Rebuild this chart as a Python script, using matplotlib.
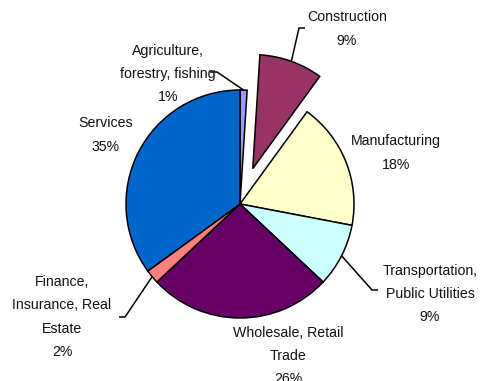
import matplotlib
matplotlib.use("Agg")
import matplotlib.pyplot as plt
import numpy as np

# employment share by sector, clockwise from 12 o'clock
sectors = ["Agriculture,\nforestry, fishing", "Construction", "Manufacturing",
           "Transportation,\nPublic Utilities", "Wholesale, Retail\nTrade",
           "Finance,\nInsurance, Real\nEstate", "Services"]
shares = [1, 9, 18, 9, 26, 2, 35]
colors = ["#9999FF", "#993366", "#FFFFCC", "#CCFFFF", "#660066", "#FF8080", "#0066CC"]
explode_idx = 1

W, H = 490, 381
CX, CY, R = 240, 204, 114
EXPLODE = 0.33  # fraction of the radius

plt.rcParams['font.family'] = ['Liberation Sans', 'DejaVu Sans']

fig = plt.figure(figsize=(W / 100, H / 100), dpi=100)
ax = fig.add_axes([0, 0, 1, 1])

explode = [EXPLODE if i == explode_idx else 0 for i in range(len(shares))]
# pie() takes the explode offset in data units
ax.pie(shares, colors=colors, startangle=90, counterclock=False,
       center=(CX, H - CY), radius=R, explode=[e * R for e in explode],
       wedgeprops=dict(edgecolor="black", linewidth=1.1), frame=False)
ax.set_xlim(0, W)
ax.set_ylim(0, H)
ax.set_aspect('equal', adjustable='box')
ax.axis('off')


def edge_point(i):
    """Point on the outer arc at the middle of wedge i (image coords)."""
    start = 90 - 3.6 * sum(shares[:i])
    mid = np.radians(start - 1.8 * shares[i])
    off = explode[i] * R
    x = CX + (R + off) * np.cos(mid)
    y = CY - (R + off) * np.sin(mid)
    return x, y


def leader(pts):
    xs = [p[0] for p in pts]
    ys = [H - p[1] for p in pts]
    ax.plot(xs, ys, color="black", linewidth=1.1, solid_capstyle="butt")


# label block centres (image coords) and leader line bends
label_pos = [(168, 74), (347, 29), (396, 153), (430, 294), (288, 356), (62, 317), (106, 135)]
leaders = {
    0: [(217, 72), (210, 72)],
    1: [(299, 28), (305, 28)],
    3: [(372, 290), (378, 290)],
    5: [(125, 317), (119, 317)],
}

for i, (name, pct) in enumerate(zip(sectors, shares)):
    x, y = label_pos[i]
    ax.text(x, H - y, f"{name}\n{pct}%", ha="center", va="center",
            fontsize=10.2, linespacing=1.83, color="#111111")
    if i in leaders:
        leader([edge_point(i)] + leaders[i])

fig.savefig("out.png", dpi=100)
